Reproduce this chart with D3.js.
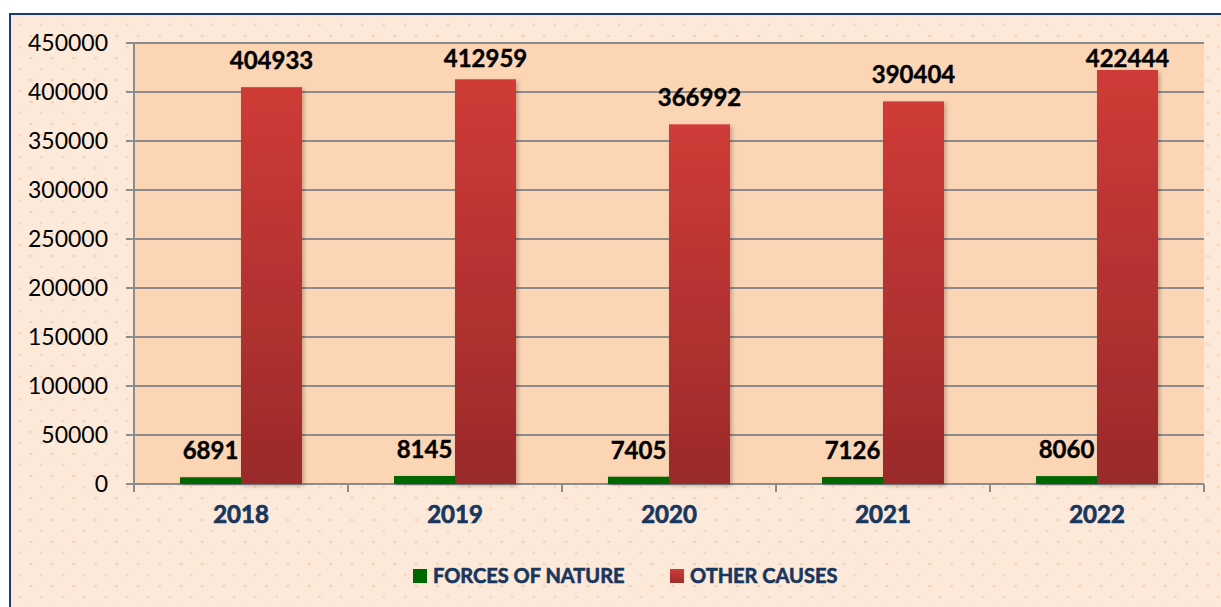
<!DOCTYPE html>
<html>
<head>
<meta charset="utf-8">
<script src="https://cdn.jsdelivr.net/npm/d3@7"></script>
<style>
  body { margin: 0; background: #fff; }
  svg { display: block; }
</style>
</head>
<body>
<div id="container"></div>
<script>
/* DATA */
const years = ["2018", "2019", "2020", "2021", "2022"];
const seriesNames = ["FORCES OF NATURE", "OTHER CAUSES"];
const forcesOfNature = [6891, 8145, 7405, 7126, 8060];
const otherCauses = [404933, 412959, 366992, 390404, 422444];
const yTicks = [0, 50000, 100000, 150000, 200000, 250000, 300000, 350000, 400000, 450000];

/* CONSTANTS */
const width = 1221;
const height = 607;
const plot = { left: 134, right: 1204, top: 43, bottom: 484 };
const navy = "#17375E";
const font = "Lato, 'Open Sans', sans-serif";

const rows = years.map((y, i) => ({
  year: y,
  values: [
    { key: seriesNames[0], value: forcesOfNature[i] },
    { key: seriesNames[1], value: otherCauses[i] }
  ]
}));

/* SCALES */
const xScale = d3.scaleBand()
  .domain(years)
  .range([plot.left, plot.right])
  .paddingInner(0)
  .paddingOuter(0);

const xInner = d3.scaleBand()
  .domain(seriesNames)
  .range([0, xScale.bandwidth()])
  .paddingInner(0)
  .paddingOuter(0.754);

const yScale = d3.scaleLinear()
  .domain([0, 450000])
  .range([plot.bottom, plot.top]);

const fillFor = { [seriesNames[0]]: "#006600", [seriesNames[1]]: "url(#redGrad)" };

/* SVG */
const svg = d3.select("#container")
  .append("svg")
  .attr("width", width)
  .attr("height", height);

const defs = svg.append("defs");

// dotted background pattern
const pat = defs.append("pattern")
  .attr("id", "dots")
  .attr("patternUnits", "userSpaceOnUse")
  .attr("x", 10).attr("y", 14)
  .attr("width", 21.4).attr("height", 22);
pat.append("rect").attr("width", 21.4).attr("height", 22).attr("fill", "#FDE9D9");
[[10, 11], [20.7, 0], [20.7, 22], [0, 0], [0, 22]].forEach(p => {
  pat.append("circle").attr("cx", p[0]).attr("cy", p[1]).attr("r", 1.3).attr("fill", "#F9D2B0");
});

const grad = defs.append("linearGradient")
  .attr("id", "redGrad")
  .attr("x1", 0).attr("y1", 0).attr("x2", 0).attr("y2", 1);
grad.append("stop").attr("offset", "0%").attr("stop-color", "#CF3B37");
grad.append("stop").attr("offset", "100%").attr("stop-color", "#9A2A2A");

const legGrad = defs.append("linearGradient")
  .attr("id", "legGrad")
  .attr("x1", 0).attr("y1", 0).attr("x2", 0).attr("y2", 1);
legGrad.append("stop").attr("offset", "0%").attr("stop-color", "#D03C38");
legGrad.append("stop").attr("offset", "100%").attr("stop-color", "#A02D2B");

const shadow = defs.append("filter").attr("id", "shadow")
  .attr("x", "-20%").attr("y", "-20%").attr("width", "140%").attr("height", "140%");
shadow.append("feDropShadow")
  .attr("dx", 2).attr("dy", 2).attr("stdDeviation", 2)
  .attr("flood-color", "#000").attr("flood-opacity", 0.25);

// chart background + border
svg.append("rect")
  .attr("x", 10).attr("y", 14)
  .attr("width", width + 10).attr("height", height)
  .attr("fill", "url(#dots)")
  .attr("stroke", "#1F3A7A")
  .attr("stroke-width", 2);

// plot area
svg.append("rect")
  .attr("x", plot.left).attr("y", plot.top)
  .attr("width", plot.right - plot.left)
  .attr("height", plot.bottom - plot.top)
  .attr("fill", "#FCD5B4");

/* GRIDLINES */
svg.append("g")
  .selectAll("line")
  .data(yTicks)
  .join("line")
  .attr("x1", plot.left - 8)
  .attr("x2", plot.right)
  .attr("y1", d => yScale(d))
  .attr("y2", d => yScale(d))
  .attr("stroke", "#8C8C8C")
  .attr("stroke-width", 2);

/* Y AXIS */
const yAxis = svg.append("g")
  .attr("transform", `translate(${plot.left},0)`)
  .call(d3.axisLeft(yScale).tickValues(yTicks).tickFormat(d3.format("d")).tickSize(0).tickPadding(26));
yAxis.select(".domain").remove();
yAxis.selectAll("text")
  .style("font-family", font)
  .style("font-size", "23px")
  .attr("fill", "#000");

svg.append("line")
  .attr("x1", plot.left).attr("x2", plot.left)
  .attr("y1", plot.top).attr("y2", plot.bottom + 8)
  .attr("stroke", "#8C8C8C").attr("stroke-width", 2);

/* X AXIS */
const boundaries = years.map(y => xScale(y)).concat([xScale(years[years.length - 1]) + xScale.bandwidth()]);
svg.append("g")
  .selectAll("line")
  .data(boundaries)
  .join("line")
  .attr("x1", d => d).attr("x2", d => d)
  .attr("y1", plot.bottom).attr("y2", plot.bottom + 8)
  .attr("stroke", "#8C8C8C").attr("stroke-width", 2);

const xAxis = svg.append("g")
  .attr("transform", `translate(0,${plot.bottom})`)
  .call(d3.axisBottom(xScale).tickSize(0).tickPadding(22));
xAxis.select(".domain").remove();
xAxis.selectAll("text")
  .style("font-family", font)
  .style("font-size", "24px")
  .style("font-weight", "bold")
  .attr("fill", navy)
  .attr("stroke", navy)
  .attr("stroke-width", 0.7);

/* BARS */
const groups = svg.append("g")
  .selectAll("g")
  .data(rows)
  .join("g")
  .attr("transform", d => `translate(${xScale(d.year)},0)`);

groups.selectAll("rect")
  .data(d => d.values)
  .join("rect")
  .attr("x", d => xInner(d.key))
  .attr("y", d => yScale(d.value))
  .attr("width", xInner.bandwidth())
  .attr("height", d => yScale(0) - yScale(d.value))
  .attr("fill", d => fillFor[d.key])
  .attr("filter", "url(#shadow)");

/* VALUE LABELS */
groups.selectAll("text")
  .data(d => d.values)
  .join("text")
  .attr("x", d => xInner(d.key) + xInner.bandwidth() / 2)
  .attr("y", d => Math.max(yScale(d.value) - 18, plot.top + 24))
  .attr("text-anchor", "middle")
  .style("font-family", font)
  .style("font-size", "24px")
  .style("font-weight", "bold")
  .attr("fill", "#000")
  .attr("stroke", "#000")
  .attr("stroke-width", 0.4)
  .text(d => d.value);

/* LEGEND */
const legendItems = [
  { key: seriesNames[0], x: 413, fill: "#006600" },
  { key: seriesNames[1], x: 670, fill: "url(#legGrad)" }
];
const legend = svg.append("g")
  .selectAll("g")
  .data(legendItems)
  .join("g")
  .attr("transform", d => `translate(${d.x},569)`);
legend.append("rect")
  .attr("width", 14).attr("height", 14)
  .attr("fill", d => d.fill);
legend.append("text")
  .attr("x", 20).attr("y", 14)
  .style("font-family", font)
  .style("font-size", "20px")
  .style("font-weight", "bold")
  .attr("fill", navy)
  .attr("stroke", navy)
  .attr("stroke-width", 0.6)
  .text(d => d.key);
</script>
</body>
</html>
